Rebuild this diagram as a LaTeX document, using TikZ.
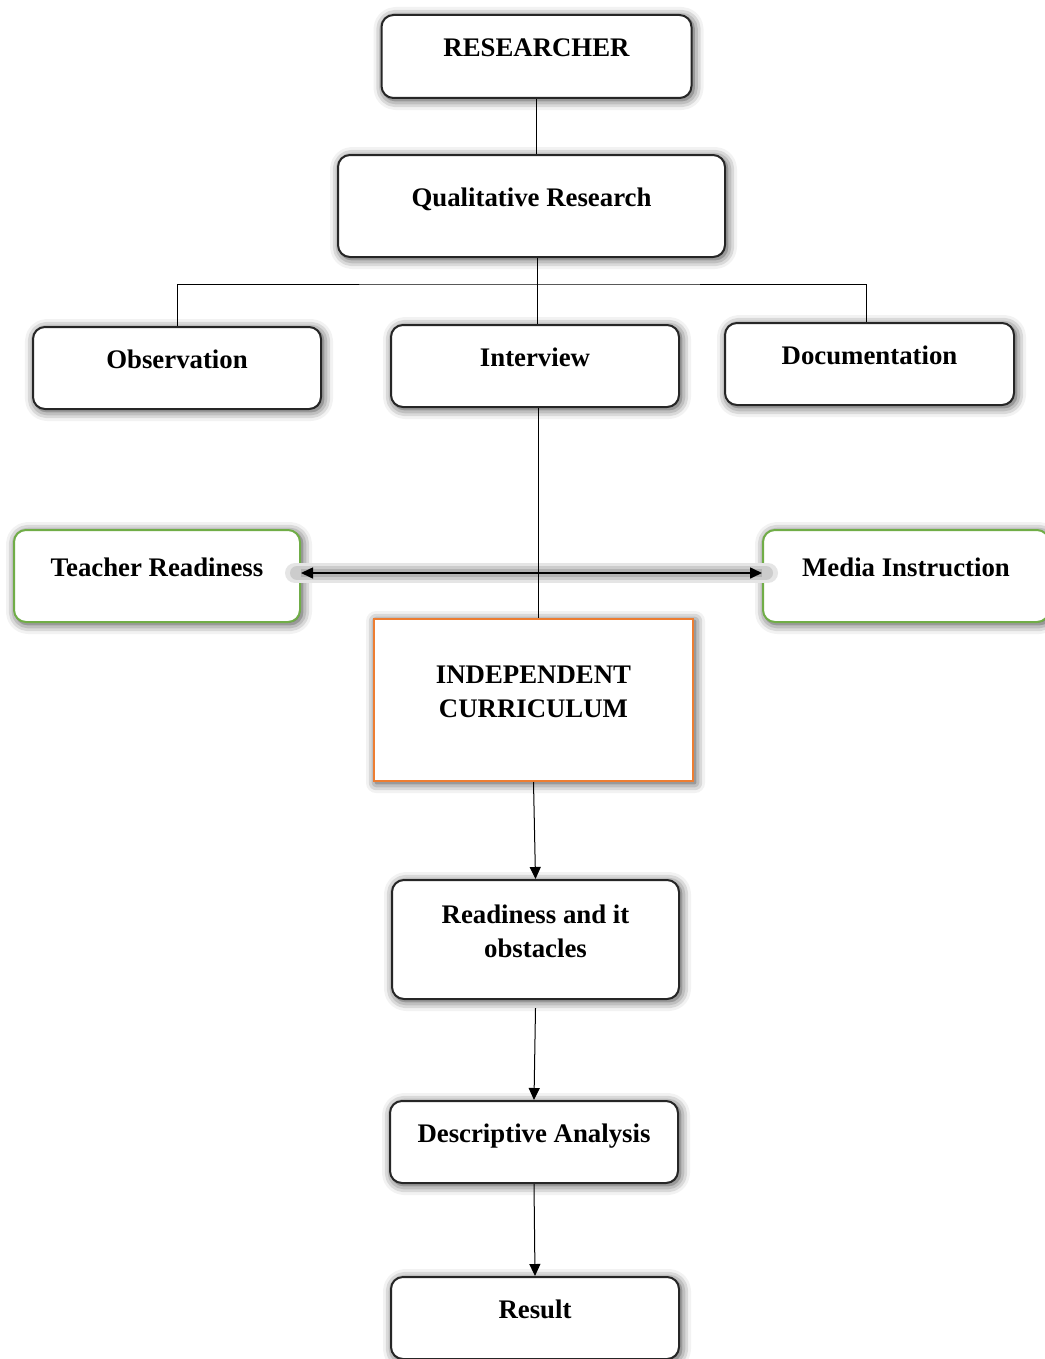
\documentclass[tikz,border=0pt]{standalone}
\usepackage{fontspec}
\setmainfont{Liberation Serif}
\usepackage{tikz}
\usetikzlibrary{arrows.meta}
\usetikzlibrary{shadows.blur}

\definecolor{boxgreen}{RGB}{112,173,71}
\definecolor{boxorange}{RGB}{237,125,49}

\begin{document}
\begin{tikzpicture}[x=0.5pt,y=-0.5pt,
        every node/.style={font=\fontsize{13.4}{17}\selectfont\bfseries, align=center},
        stepbox/.style={draw=black!85, line width=1pt, rounded corners=6pt, fill=white, inner sep=0pt,
          blur shadow={shadow xshift=1pt, shadow yshift=-1pt, shadow blur radius=5pt, shadow opacity=80}},
        oneline/.style={text height=0pt, text depth=0pt},
        sidebox/.style={stepbox, draw=boxgreen},
        link/.style={draw=black, line width=0.5pt},
        >={Triangle[length=6pt,width=5.5pt]}]
        \useasboundingbox (0,0) rectangle (1044,1359);
        % top of the tree
        \node[stepbox, oneline, minimum width=155pt, minimum height=41.5pt] (res) at (536.5,56.5) {RESEARCHER};
        \node[stepbox, oneline, minimum width=193.5pt, minimum height=51pt] (qual) at (531.5,206) {Qualitative Research};
        \node[stepbox, oneline, minimum width=144pt, minimum height=41pt] (obs) at (177,368) {Observation};
        \node[stepbox, oneline, minimum width=144pt, minimum height=41pt] (intv) at (535,366) {Interview};
        \node[stepbox, oneline, minimum width=144.5pt, minimum height=41pt] (doc) at (869.5,364) {Documentation};
        \coordinate (fork) at (537,284);
        \draw[link] (res.south) -- (res.south |- qual.north);
        \draw[link] (qual.south -| fork) -- (intv.north -| fork);
        \draw[link] (obs.north) |- (fork) -| ([xshift=-1.75pt]doc.north);
        % middle
        \node[sidebox, oneline, minimum width=143pt, minimum height=46pt] (teach) at (157,576) {Teacher Readiness};
        \node[sidebox, oneline, minimum width=143pt, minimum height=46pt] (media) at (906,576) {Media Instruction};
        \node[stepbox, draw=boxorange, sharp corners, text height=17.5pt, text depth=0pt,
          minimum width=159.5pt, minimum height=81pt] (indep) at (533.5,700) {INDEPENDENT\\CURRICULUM};
        \draw[line width=10pt, black!10, line cap=round] ([xshift=-3pt,yshift=1.5pt]teach.east) -- ([xshift=3pt,yshift=1.5pt]media.west);
        \draw[line width=7pt, black!20, line cap=round] ([xshift=-2pt,yshift=1.5pt]teach.east) -- ([xshift=2pt,yshift=1.5pt]media.west);
        \draw[line width=4pt, black!30] ([yshift=1.5pt]teach.east) -- ([yshift=1.5pt]media.west);
        \draw[link, line width=0.8pt, <->] ([yshift=1.5pt]teach.east) -- ([yshift=1.5pt]media.west);
        \draw[link] (intv.south -| 538,0) -- (indep.north -| 538,0);
        % bottom of the chart
        \node[stepbox, text height=18pt, text depth=0pt, minimum width=143.5pt, minimum height=59.5pt] (ready) at (535.5,939.5) {Readiness and it\\obstacles};
        \node[stepbox, oneline, minimum width=144pt, minimum height=41pt] (desc) at (534,1142) {Descriptive Analysis};
        \node[stepbox, oneline, minimum width=144pt, minimum height=41pt] (result) at (535,1318) {Result};
        \draw[link, ->] (indep.south) -- (ready.north);
        \draw[link, ->] ([yshift=-4pt]ready.south) -- (desc.north);
        \draw[link, ->] (desc.south) -- (result.north);
\end{tikzpicture}
\end{document}
